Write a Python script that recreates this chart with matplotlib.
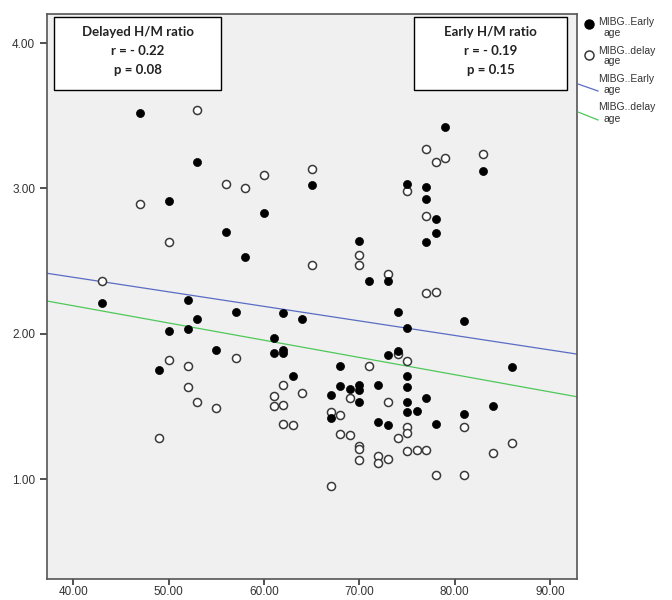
import matplotlib.pyplot as plt
from matplotlib.patches import Rectangle
from matplotlib.lines import Line2D

# early H/M ratio (filled) : age, ratio
early_age = [47, 53, 50, 56, 65, 60, 58, 70, 79, 83, 75, 77, 77, 78, 78, 77,
             43, 52, 53, 50, 52, 55, 49, 71, 73, 57, 62, 64, 74, 61, 61, 62,
             62, 73, 74, 68, 63, 68, 67, 69, 70, 70, 70, 72, 67, 72, 73, 75,
             81, 86, 75, 75, 75, 77, 75, 76, 84, 81, 78]
early_hm = [3.52, 3.18, 2.91, 2.70, 3.02, 2.83, 2.53, 2.64, 3.42, 3.12, 3.03, 3.01,
            2.93, 2.79, 2.69, 2.63, 2.21, 2.23, 2.10, 2.02, 2.03, 1.89, 1.75, 2.36,
            2.36, 2.15, 2.14, 2.10, 2.15, 1.97, 1.87, 1.89, 1.87, 1.85, 1.88, 1.78,
            1.71, 1.64, 1.58, 1.62, 1.65, 1.61, 1.53, 1.65, 1.42, 1.39, 1.37, 2.04,
            2.09, 1.77, 1.71, 1.63, 1.53, 1.56, 1.46, 1.47, 1.50, 1.45, 1.38]

# delayed H/M ratio (open)
delayed_age = [53, 56, 47, 50, 58, 60, 65, 70, 77, 78, 79, 83, 75, 77, 43, 50,
               52, 52, 53, 55, 49, 70, 65, 73, 57, 74, 71, 62, 64, 61, 61, 62,
               62, 63, 69, 73, 67, 68, 68, 69, 70, 70, 74, 77, 78, 75, 81, 75,
               75, 86, 76, 77, 75, 84, 72, 72, 73, 70, 78, 81, 67]
delayed_hm = [3.54, 3.03, 2.89, 2.63, 3.00, 3.09, 3.13, 2.54, 3.27, 3.18, 3.21, 3.24,
              2.98, 2.81, 2.36, 1.82, 1.78, 1.63, 1.53, 1.49, 1.28, 2.47, 2.47, 2.41,
              1.83, 1.86, 1.78, 1.65, 1.59, 1.57, 1.50, 1.51, 1.38, 1.37, 1.56, 1.53,
              1.46, 1.44, 1.31, 1.30, 1.23, 1.21, 1.28, 2.28, 2.29, 1.81, 1.36, 1.36,
              1.32, 1.25, 1.20, 1.20, 1.19, 1.18, 1.16, 1.11, 1.14, 1.13, 1.03, 1.03,
              0.95]

# fit lines (intercept, slope)
early_fit = (2.788, -0.0100)
delayed_fit = (2.666, -0.01185)

x_ticks = [40, 50, 60, 70, 80, 90]
y_ticks = [1, 2, 3, 4]

left_box = ["Delayed H/M ratio", "r = - 0.22", "p = 0.08"]
right_box = ["Early H/M ratio", "r = - 0.19", "p = 0.15"]

plt.rcParams['font.family'] = ['Liberation Sans', 'DejaVu Sans']

fig = plt.figure(figsize=(6.72, 6.0), dpi=100)
ax = fig.add_axes([47 / 672, 1 - 579 / 600, 530 / 672, 565 / 600])
ax.set_facecolor('#f0f0f0')
ax.set_xlim(37.22, 92.83)
ax.set_ylim(0.312, 4.20)

xs = [37.22, 92.83]
ax.plot(xs, [early_fit[0] + early_fit[1] * x for x in xs], color='#5a6cc4', lw=0.9, zorder=2)
ax.plot(xs, [delayed_fit[0] + delayed_fit[1] * x for x in xs], color='#4fc85a', lw=0.9, zorder=2)

ax.plot(delayed_age, delayed_hm, 'o', ms=5.8, mfc='white', mec='#3a3a3a', mew=1.1,
        ls='none', zorder=3)
ax.plot(early_age, early_hm, 'o', ms=5.8, mfc='black', mec='black', mew=0.5,
        ls='none', zorder=4)

ax.set_xticks(x_ticks)
ax.set_xticklabels([f"{v:.2f}" for v in x_ticks])
ax.set_yticks(y_ticks)
ax.set_yticklabels([f"{v:.2f}" for v in y_ticks])
ax.tick_params(labelsize=8.5, labelcolor='#333333', color='#333333', length=5, width=1.2)
ax.tick_params(axis='x', length=4, pad=1)
for s in ax.spines.values():
    s.set_color('#555555')
    s.set_linewidth(1.2)

# stat boxes
for (x0, x1), lines in [((54, 221), left_box), ((414, 567), right_box)]:
    fx0 = (x0 - 47) / 530
    fx1 = (x1 - 47) / 530
    ax.add_patch(Rectangle((fx0, (579 - 90) / 565), fx1 - fx0, 73 / 565,
                           transform=ax.transAxes, facecolor='white',
                           edgecolor='black', lw=1, zorder=5))
    for i, t in enumerate(lines):
        ax.text((fx0 + fx1) / 2, (579 - 32 - i * 19) / 565, t, transform=ax.transAxes,
                ha='center', va='center', fontsize=9.5, fontweight='bold',
                family=['Lato', 'DejaVu Sans'], color='#222222', zorder=6)

# legend drawn outside axes
def fx(px):
    return px / 672

def fy(py):
    return 1 - py / 600

fig.add_artist(Line2D([fx(589)], [fy(24)], marker='o', ms=6.5, mfc='black',
                      mec='black', ls='none'))
fig.add_artist(Line2D([fx(589)], [fy(55)], marker='o', ms=6.5, mfc='white',
                      mec='#3a3a3a', mew=1.1, ls='none'))
fig.add_artist(Line2D([fx(578), fx(598)], [fy(84), fy(91)], color='#5a6cc4', lw=0.9))
fig.add_artist(Line2D([fx(578), fx(598)], [fy(112), fy(120)], color='#4fc85a', lw=0.9))
legend_labels = ["MIBG..Early", "MIBG..delay", "MIBG..Early", "MIBG..delay"]
for i, lab in enumerate(legend_labels):
    y0 = 22 + i * 28.5
    fig.text(fx(598), fy(y0), lab, fontsize=7.5, color='#333333', va='center')
    fig.text(fx(603), fy(y0 + 11), "age", fontsize=7.5, color='#333333', va='center')

fig.savefig('out.png', dpi=100)
